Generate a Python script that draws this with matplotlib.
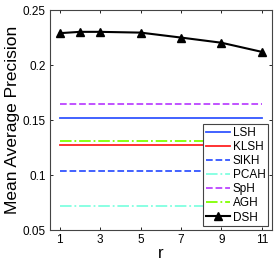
import matplotlib
matplotlib.use("Agg")
import matplotlib.pyplot as plt

plt.rcParams['font.family'] = ['Liberation Sans', 'DejaVu Sans']

r_vals = [1, 2, 3, 5, 7, 9, 11]
dsh = [0.2290, 0.2302, 0.2302, 0.2295, 0.2250, 0.2203, 0.2120]
span = [1, 11]
baselines = {
    'LSH': 0.152,
    'KLSH': 0.1275,
    'SIKH': 0.104,
    'PCAH': 0.072,
    'SpH': 0.165,
    'AGH': 0.131,
}
styles = {
    'LSH': dict(color='#3355ff', ls='-'),
    'KLSH': dict(color='#ff2222', ls='-'),
    'SIKH': dict(color='#3355ff', ls='--'),
    'PCAH': dict(color='#80ffe0', ls='-.'),
    'SpH': dict(color='#bb44ff', ls='--'),
    'AGH': dict(color='#80ff00', ls='-.'),
}
xticks = [1, 3, 5, 7, 9, 11]
yticks = [0.05, 0.1, 0.15, 0.2, 0.25]
yticklabels = ['0.05', '0.1', '0.15', '0.2', '0.25']

fig = plt.figure(figsize=(2.78, 2.65), dpi=100)
ax = fig.add_axes([0.179, 0.132, 0.799, 0.830])

for name, val in baselines.items():
    ax.plot(span, [val, val], lw=1.3, label=name, **styles[name])
ax.plot(r_vals, dsh, color='black', lw=1.5, marker='^', ms=5.5, label='DSH')

ax.set_xlim(0.5, 11.5)
ax.set_ylim(0.05, 0.25)
ax.set_xticks(xticks)
ax.set_xticklabels([str(t) for t in xticks])
ax.set_yticks(yticks)
ax.set_yticklabels(yticklabels)
ax.tick_params(direction='in', length=2.5, labelsize=8.5, width=0.6, pad=3,
               top=True, right=True)
for s in ax.spines.values():
    s.set_linewidth(0.8)
    s.set_color('#444444')
ax.set_xlabel('r', fontsize=12, labelpad=0)
ax.set_ylabel('Mean Average Precision', fontsize=12.5, labelpad=2)

leg = ax.legend(loc='lower right', fontsize=8.5, handlelength=2.0,
                handletextpad=0.25, labelspacing=0.18, borderpad=0.25,
                borderaxespad=0.3, fancybox=False, framealpha=1)
leg.get_frame().set_edgecolor('#444444')
leg.get_frame().set_linewidth(0.8)

fig.savefig('out.png', dpi=100)
